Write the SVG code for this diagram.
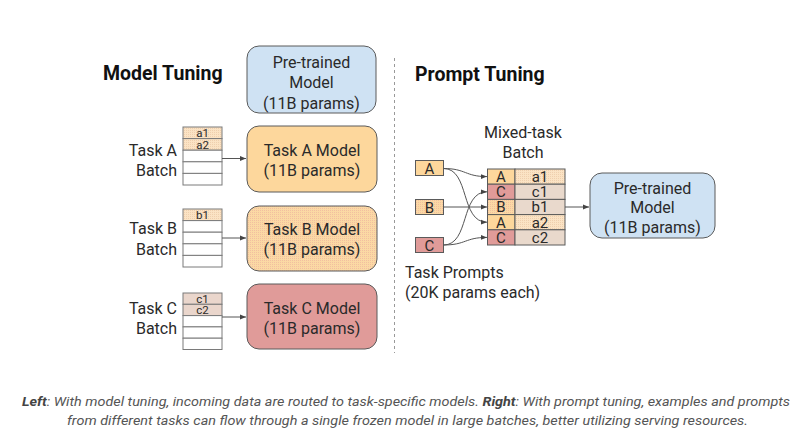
<svg xmlns="http://www.w3.org/2000/svg" width="803" height="446" viewBox="0 0 803 446">
<style>
text{font-family:Roboto,"Liberation Sans",sans-serif;fill:#2a2a2a}
.h{font-size:19.5px;font-weight:bold;fill:#111}
.t{font-size:16px}
.s{font-size:11.5px}
.m{font-size:15px}
.box{stroke:#5a5a5a;stroke-width:1}
.cell{stroke:#7a7a7a;stroke-width:1;fill:#fff}
.conn{fill:none;stroke:#555;stroke-width:1}
.cap{font-size:13px;font-style:italic;fill:#555}
</style>
<defs>
<pattern id="ditherO" width="2" height="2" patternUnits="userSpaceOnUse">
<rect width="2" height="2" fill="#fbd9a4"/>
<rect width="1" height="1" fill="#f2bfa0"/>
</pattern>
<pattern id="ditherL" width="2" height="2" patternUnits="userSpaceOnUse">
<rect width="2" height="2" fill="#fbe3c4"/>
<rect width="1" height="1" fill="#efcfae"/>
</pattern>
<marker id="ah" viewBox="0 0 10 10" refX="10" refY="5" markerWidth="6" markerHeight="6" orient="auto">
<path d="M0,1 L10,5 L0,9 z" fill="#444"/>
</marker>
</defs>
<rect width="803" height="446" fill="#fff"/>

<g id="headers">
<text class="h" x="103" y="80">Model Tuning</text>
<text class="h" x="415" y="81">Prompt Tuning</text>
</g>

<g id="divider">
<line x1="394.5" y1="58" x2="394.5" y2="353" stroke="#999" stroke-width="1" stroke-dasharray="3,3"/>
</g>

<g id="pretrained-left">
<rect class="box" x="247" y="46" width="129" height="67" rx="12" fill="#cfe2f3"/>
<text class="t" x="311.5" y="68" text-anchor="middle">Pre-trained</text>
<text class="t" x="311.5" y="88" text-anchor="middle">Model</text>
<text class="t" x="311.5" y="108.5" text-anchor="middle">(11B params)</text>
</g>

<g id="taskA-batch">
<text class="t" x="177" y="156" text-anchor="end">Task A</text>
<text class="t" x="177" y="176" text-anchor="end">Batch</text>
<rect class="cell" x="183" y="127" width="39" height="11.6" style="fill:url(#ditherL)"/>
<rect class="cell" x="183" y="138.6" width="39" height="11.6" style="fill:url(#ditherL)"/>
<rect class="cell" x="183" y="150.2" width="39" height="11.6"/>
<rect class="cell" x="183" y="161.8" width="39" height="11.6"/>
<rect class="cell" x="183" y="173.4" width="39" height="11.6"/>
<text class="s" x="202.5" y="137" text-anchor="middle">a1</text>
<text class="s" x="202.5" y="148.5" text-anchor="middle">a2</text>
</g>

<g id="taskA-model">
<rect class="box" x="247" y="126" width="130" height="66" rx="12" fill="#fdd79c"/>
<text class="t" x="312" y="156" text-anchor="middle">Task A Model</text>
<text class="t" x="312" y="176" text-anchor="middle">(11B params)</text>
</g>

<g id="taskB-batch">
<text class="t" x="177" y="234" text-anchor="end">Task B</text>
<text class="t" x="177" y="255" text-anchor="end">Batch</text>
<rect class="cell" x="183" y="209" width="39" height="11.6" style="fill:url(#ditherL)"/>
<rect class="cell" x="183" y="220.6" width="39" height="11.6"/>
<rect class="cell" x="183" y="232.2" width="39" height="11.6"/>
<rect class="cell" x="183" y="243.8" width="39" height="11.6"/>
<rect class="cell" x="183" y="255.4" width="39" height="11.6"/>
<text class="s" x="202.5" y="219" text-anchor="middle">b1</text>
</g>

<g id="taskB-model">
<rect class="box" x="247" y="206" width="130" height="65" rx="12" style="fill:url(#ditherO)"/>
<text class="t" x="312" y="235" text-anchor="middle">Task B Model</text>
<text class="t" x="312" y="255" text-anchor="middle">(11B params)</text>
</g>

<g id="taskC-batch">
<text class="t" x="177" y="314" text-anchor="end">Task C</text>
<text class="t" x="177" y="334" text-anchor="end">Batch</text>
<rect class="cell" x="183" y="293" width="39" height="11.3" style="fill:#ead6cc"/>
<rect class="cell" x="183" y="304.3" width="39" height="11.3" style="fill:#ead6cc"/>
<rect class="cell" x="183" y="315.6" width="39" height="11.3"/>
<rect class="cell" x="183" y="326.9" width="39" height="11.3"/>
<rect class="cell" x="183" y="338.2" width="39" height="11.3"/>
<text class="s" x="202.5" y="302.5" text-anchor="middle">c1</text>
<text class="s" x="202.5" y="314" text-anchor="middle">c2</text>
</g>

<g id="taskC-model">
<rect class="box" x="247" y="284" width="130" height="65" rx="12" fill="#e09b99"/>
<text class="t" x="312" y="314" text-anchor="middle">Task C Model</text>
<text class="t" x="312" y="334" text-anchor="middle">(11B params)</text>
</g>

<g id="prompts">
<rect class="box" x="415.5" y="160.5" width="28" height="15" fill="#fdd79c"/>
<text class="m" x="429.5" y="173.5" text-anchor="middle">A</text>
<rect class="box" x="415.5" y="199.5" width="28" height="15" style="fill:url(#ditherO)"/>
<text class="m" x="429.5" y="212.5" text-anchor="middle">B</text>
<rect class="box" x="415.5" y="237.5" width="28" height="15" fill="#e09b99"/>
<text class="m" x="429.5" y="250.5" text-anchor="middle">C</text>
<text class="t" x="405" y="277.5">Task Prompts</text>
<text class="t" x="405" y="297.5">(20K params each)</text>
</g>

<g id="mixed-batch">
<text class="t" x="523" y="137.5" text-anchor="middle">Mixed-task</text>
<text class="t" x="523" y="158" text-anchor="middle">Batch</text>
<rect class="box" x="487.5" y="169" width="27.5" height="15.2" fill="#fdd79c"/>
<rect class="box" x="515" y="169" width="50" height="15.2" style="fill:url(#ditherL)"/>
<rect class="box" x="487.5" y="184.2" width="27.5" height="15.2" fill="#e09b99"/>
<rect class="box" x="515" y="184.2" width="50" height="15.2" fill="#e9d9cc"/>
<rect class="box" x="487.5" y="199.4" width="27.5" height="15.2" style="fill:url(#ditherO)"/>
<rect class="box" x="515" y="199.4" width="50" height="15.2" fill="#e9d9cc"/>
<rect class="box" x="487.5" y="214.6" width="27.5" height="15.2" fill="#fdd79c"/>
<rect class="box" x="515" y="214.6" width="50" height="15.2" style="fill:url(#ditherL)"/>
<rect class="box" x="487.5" y="229.8" width="27.5" height="15.2" fill="#e09b99"/>
<rect class="box" x="515" y="229.8" width="50" height="15.2" fill="#e9d9cc"/>
<text class="m" x="501" y="182" text-anchor="middle">A</text>
<text class="m" x="540" y="182" text-anchor="middle">a1</text>
<text class="m" x="501" y="197.2" text-anchor="middle">C</text>
<text class="m" x="540" y="197.2" text-anchor="middle">c1</text>
<text class="m" x="501" y="212.4" text-anchor="middle">B</text>
<text class="m" x="540" y="212.4" text-anchor="middle">b1</text>
<text class="m" x="501" y="227.6" text-anchor="middle">A</text>
<text class="m" x="540" y="227.6" text-anchor="middle">a2</text>
<text class="m" x="501" y="242.8" text-anchor="middle">C</text>
<text class="m" x="540" y="242.8" text-anchor="middle">c2</text>
</g>

<g id="pretrained-right">
<rect class="box" x="590" y="173" width="125" height="65" rx="12" fill="#cfe2f3"/>
<text class="t" x="652.5" y="194" text-anchor="middle">Pre-trained</text>
<text class="t" x="652.5" y="213" text-anchor="middle">Model</text>
<text class="t" x="652.5" y="233" text-anchor="middle">(11B params)</text>
</g>

<g id="connectors">
<line class="conn" x1="222" y1="158.5" x2="246" y2="158.5" marker-end="url(#ah)"/>
<line class="conn" x1="222" y1="238" x2="246" y2="238" marker-end="url(#ah)"/>
<line class="conn" x1="222" y1="317" x2="246" y2="317" marker-end="url(#ah)"/>
<path class="conn" d="M443.5,168.5 C466,168.5 465,176.6 487,176.6" marker-end="url(#ah)"/>
<path class="conn" d="M443.5,168.5 C470,168.5 460,222.2 487,222.2" marker-end="url(#ah)"/>
<path class="conn" d="M443.5,207 L487,207" marker-end="url(#ah)"/>
<path class="conn" d="M443.5,245 C470,245 460,191.8 487,191.8" marker-end="url(#ah)"/>
<path class="conn" d="M443.5,245 C466,245 465,237.4 487,237.4" marker-end="url(#ah)"/>
<line class="conn" x1="565" y1="207" x2="589" y2="207" marker-end="url(#ah)"/>
</g>

<g id="caption">
<text class="cap" x="22" y="405.5" textLength="768" lengthAdjust="spacingAndGlyphs"><tspan font-weight="bold" fill="#444">Left</tspan>: With model tuning, incoming data are routed to task-specific models. <tspan font-weight="bold" fill="#444">Right</tspan>: With prompt tuning, examples and prompts</text>
<text class="cap" x="67" y="424.5" textLength="681" lengthAdjust="spacingAndGlyphs">from different tasks can flow through a single frozen model in large batches, better utilizing serving resources.</text>
</g>
</svg>
